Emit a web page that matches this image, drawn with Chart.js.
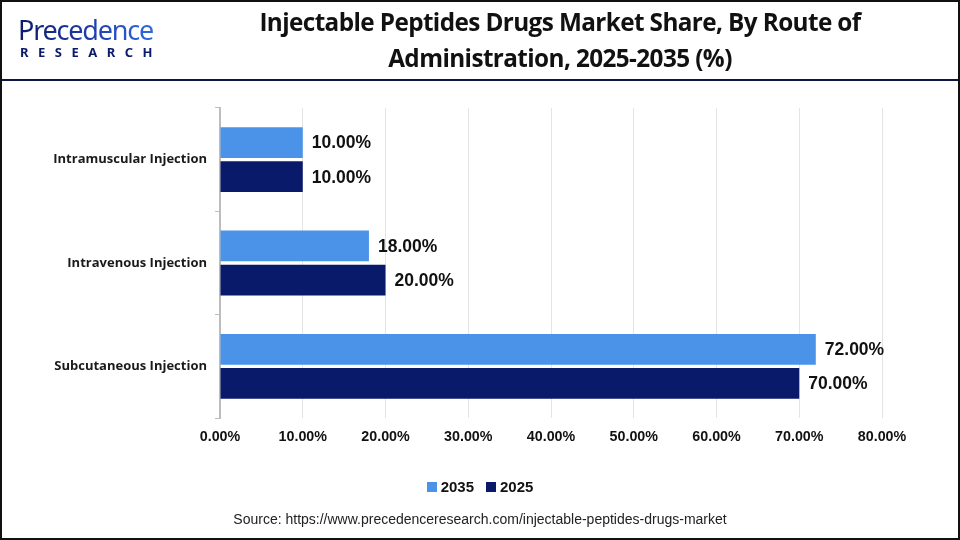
<!DOCTYPE html>
<html><head><meta charset="utf-8">
<script src="https://cdn.jsdelivr.net/npm/chart.js@4.4.1/dist/chart.umd.min.js"></script>
<style>
html,body{margin:0;padding:0;background:#fff;}
#wrap{position:relative;width:960px;height:540px;overflow:hidden;background:#fff;font-family:"Liberation Sans",Arial,sans-serif;}
#frame{position:absolute;left:0;top:0;width:956px;height:536px;border:2px solid #111;pointer-events:none;z-index:5;}
#hline{position:absolute;left:0;top:79px;width:960px;height:2px;background:#0d1642;}
#title{position:absolute;left:200px;width:720px;top:4px;text-align:center;font-family:"Open Sans",sans-serif;font-weight:700;font-size:24.3px;line-height:36px;color:#111;letter-spacing:-0.6px;}
#logo1{position:absolute;left:18px;top:14px;font-family:"Noto Sans",sans-serif;font-size:27px;line-height:32px;letter-spacing:-1.2px;background:linear-gradient(90deg,#0c1a6a 0%,#1e3aa8 50%,#2f6ae0 100%);-webkit-background-clip:text;background-clip:text;color:transparent;}
#logo2{position:absolute;left:20px;top:43px;font-family:"Noto Sans",sans-serif;font-weight:700;font-size:13px;letter-spacing:9.5px;color:#0c1a6a;}
#legend{position:absolute;top:478px;left:0;width:960px;text-align:center;font-weight:700;font-size:15px;color:#111;}
#legend span.sw{display:inline-block;width:10px;height:10px;margin-right:4px;vertical-align:0px;}
#legend span.it{margin:0 6px;}
#source{position:absolute;top:511px;left:0;width:960px;text-align:center;font-size:14px;color:#222;}
canvas{position:absolute;left:0;top:0;}
</style></head>
<body>
<div id="wrap">
<canvas id="c" width="960" height="540"></canvas>
<div id="hline"></div>
<div id="logo1">Precedence</div>
<div id="logo2">RESEARCH</div>
<div id="title">Injectable Peptides Drugs Market Share, By Route of<br>Administration, 2025-2035 (%)</div>
<div id="legend"><span class="it"><span class="sw" style="background:#4a93e8"></span>2035</span><span class="it"><span class="sw" style="background:#0a1a6b"></span>2025</span></div>
<div id="source">Source: https://www.precedenceresearch.com/injectable-peptides-drugs-market</div>
<div id="frame"></div>
</div>
<script>
const categories = ["Intramuscular Injection", "Intravenous Injection", "Subcutaneous Injection"];
const series2035 = [10, 18, 72];
const series2025 = [10, 20, 70];
const seriesNames = ["2035", "2025"];
const xTicks = [0, 10, 20, 30, 40, 50, 60, 70, 80];

const labelPlugin = {
  id: 'barLabels',
  afterDatasetsDraw(chart) {
    const ctx = chart.ctx;
    ctx.save();
    ctx.font = 'bold 17.5px "Liberation Sans", Arial, sans-serif';
    ctx.fillStyle = '#111';
    ctx.textAlign = 'left';
    ctx.textBaseline = 'middle';
    chart.data.datasets.forEach((ds, i) => {
      chart.getDatasetMeta(i).data.forEach((bar, j) => {
        ctx.fillText(ds.data[j].toFixed(2) + '%', bar.x + 9, bar.y + 1);
      });
    });
    ctx.restore();
  }
};

new Chart(document.getElementById('c'), {
  type: 'bar',
  data: {
    labels: categories,
    datasets: [
      { label: seriesNames[0], data: series2035, backgroundColor: '#4a93e8', categoryPercentage: 0.66, barPercentage: 0.9 },
      { label: seriesNames[1], data: series2025, backgroundColor: '#0a1a6b', categoryPercentage: 0.66, barPercentage: 0.9 }
    ]
  },
  options: {
    indexAxis: 'y',
    responsive: false,
    animation: false,
    layout: { padding: { left: 0, top: 108, right: 78, bottom: 92 } },
    plugins: { legend: { display: false }, tooltip: { enabled: false } },
    scales: {
      x: {
        min: 0, max: 80,
        afterBuildTicks(s) { s.ticks = xTicks.map(v => ({ value: v })); },
        afterFit(s) { s.height = 30; },
        grid: { color: '#e4e4e4', drawTicks: false },
        border: { display: false },
        ticks: {
          padding: 10,
          color: '#111',
          font: { family: '"Liberation Sans", Arial, sans-serif', weight: 'bold', size: 14.3 },
          callback: v => Number(v).toFixed(2) + '%'
        }
      },
      y: {
        afterFit(s) { s.width = 220; },
        grid: { offset: true, drawOnChartArea: false, drawTicks: true, tickLength: 5, color: '#bdbdbd' },
        border: { display: true, color: '#bdbdbd', width: 2 },
        ticks: {
          padding: 8,
          color: '#1a1a1a',
          font: { family: '"Open Sans", sans-serif', weight: '700', size: 13 }
        }
      }
    }
  },
  plugins: [labelPlugin]
});
</script>
</body></html>
